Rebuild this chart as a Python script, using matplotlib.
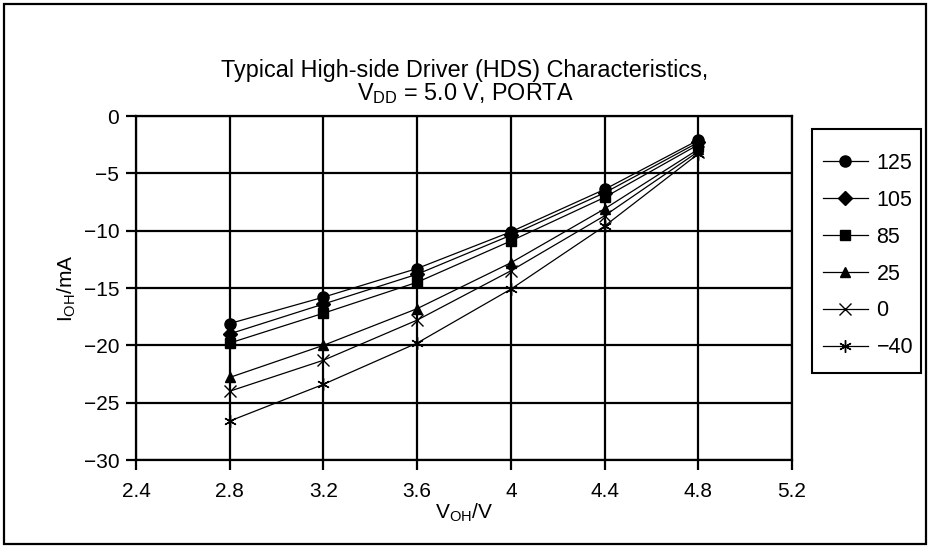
import matplotlib
matplotlib.use("Agg")
import matplotlib.pyplot as plt
from matplotlib.patches import Rectangle

plt.rcParams['font.family'] = ['Liberation Sans', 'DejaVu Sans']
plt.rcParams['mathtext.fontset'] = 'custom'
plt.rcParams['mathtext.rm'] = 'Liberation Sans'
plt.rcParams['mathtext.it'] = 'Liberation Sans'

# voltage at pin (V)
v_oh = [2.8, 3.2, 3.6, 4.0, 4.4, 4.8]

# output current (mA) per temperature
i_125 = [-18.1, -15.8, -13.3, -10.1, -6.4, -2.1]
i_105 = [-19.0, -16.4, -13.8, -10.4, -6.7, -2.3]
i_85 = [-19.8, -17.2, -14.5, -10.9, -7.1, -2.5]
i_25 = [-22.8, -20.0, -16.8, -12.8, -8.1, -2.9]
i_0 = [-24.0, -21.3, -17.8, -13.5, -8.7, -3.1]
i_m40 = [-26.6, -23.4, -19.8, -15.1, -9.6, -3.3]

labels = ['125', '105', '85', '25', '0', '\u221240']
series = [i_125, i_105, i_85, i_25, i_0, i_m40]
markers = ['o', 'D', 's', '^', 'x', (6, 2, 0)]
msizes = [8, 7, 7, 7, 8, 9]

FS = 15

fig = plt.figure(figsize=(9.3, 5.48), dpi=100)
ax = fig.add_axes([136 / 930, 1 - 460 / 548, (792 - 136) / 930, (460 - 116) / 548])

for ys, lab, m, ms in zip(series, labels, markers, msizes):
    ax.plot(v_oh, ys, color='black', lw=0.9, marker=m, markersize=ms,
            markeredgewidth=1.0, label=lab)

ax.set_xlim(2.4, 5.2)
ax.set_ylim(-30, 0)
ax.set_xticks([2.4, 2.8, 3.2, 3.6, 4.0, 4.4, 4.8, 5.2])
ax.set_xticklabels(['2.4', '2.8', '3.2', '3.6', '4', '4.4', '4.8', '5.2'])
ax.set_yticks(range(-30, 1, 5))
ax.grid(True, color='black', lw=1.6)
ax.set_axisbelow(True)
for s in ax.spines.values():
    s.set_linewidth(1.6)
ax.tick_params(axis='both', labelsize=FS, length=7, width=1.6, direction='out', pad=5)
ax.tick_params(axis='x', pad=9)

ax.set_xlabel('V$_{\\mathrm{OH}}$/V', fontsize=FS, labelpad=0)
ax.set_ylabel('I$_{\\mathrm{OH}}$/mA', fontsize=FS, labelpad=4)

fig.text(0.5, 1 - 71 / 548, 'Typical High-side Driver (HDS) Characteristics,',
         ha='center', va='center', fontsize=16.8)
fig.text(0.5, 1 - 94 / 548, 'V$_{\\mathrm{DD}}$ = 5.0 V, PORTA',
         ha='center', va='center', fontsize=16.8)

# legend entries without frame; box drawn separately
leg = ax.legend(loc='upper left', bbox_to_anchor=(812 / 930, 1 - 142 / 548),
                bbox_transform=fig.transFigure, frameon=False,
                fontsize=15.5, handlelength=2.1, borderpad=0.5,
                labelspacing=0.74, handletextpad=0.4, borderaxespad=0)
fig.patches.append(Rectangle((812 / 930, 1 - 373 / 548), 109 / 930, 244 / 548,
                             transform=fig.transFigure, fill=False,
                             edgecolor='black', lw=1.5))

fig.patches.append(Rectangle((4 / 930, 4 / 548), 922 / 930, 540 / 548,
                             transform=fig.transFigure, fill=False,
                             edgecolor='black', lw=1.6))

fig.savefig('out.png', dpi=100)
